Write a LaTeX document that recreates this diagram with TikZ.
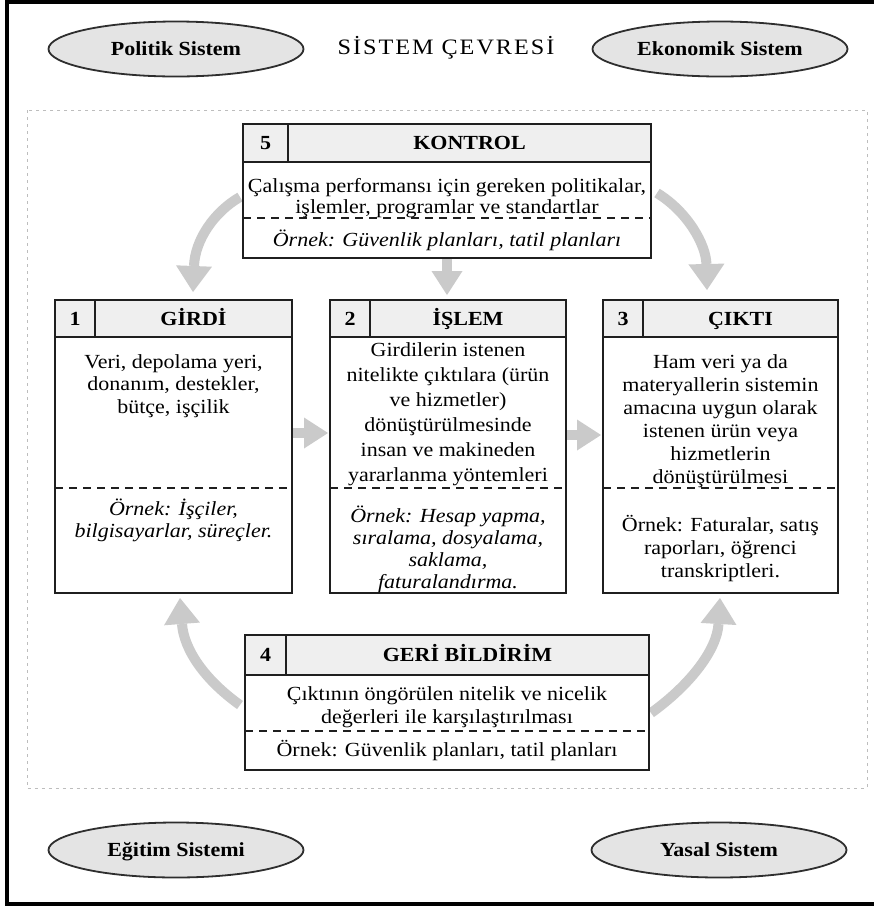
\documentclass[tikz,border=0pt]{standalone}
\usepackage{fontspec}
\setmainfont{Liberation Serif}[FakeStretch=1.1]
\usetikzlibrary{shapes.geometric,arrows.meta}

\definecolor{headfill}{HTML}{EFEFEF}
\definecolor{ellfill}{HTML}{E4E4E4}
\definecolor{flowgray}{HTML}{CACACA}
\definecolor{framegray}{HTML}{BDBDBD}

\tikzset{
  boxline/.style={draw=black!88, line width=1.6pt},
  sepdash/.style={draw=black!88, line width=1.3pt, dash pattern=on 8pt off 6pt},
  sysell/.style={ellipse, draw=black!82, line width=1.8pt, fill=ellfill,
    minimum width=255pt, minimum height=55pt, inner sep=0pt,
    text height=13.2pt, text depth=0pt,
    font=\fontsize{20}{22}\selectfont\bfseries},
  numtxt/.style={inner sep=0pt, text height=13.2pt, text depth=0pt,
    font=\fontsize{20}{22}\selectfont\bfseries},
  headtxt/.style={inner sep=0pt, text height=13.2pt, text depth=0pt,
    font=\fontsize{20}{22}\selectfont\bfseries},
  bodytxt/.style={align=center, inner sep=0pt, font=\fontsize{20}{#1}\selectfont},
  bodytxt/.default=22,
  extxt/.style={align=center, inner sep=0pt, font=\fontsize{20}{#1}\selectfont\itshape},
  extxt/.default=22,
  flow/.style={draw=flowgray, line width=10pt,
    -{Triangle[width=36pt,length=26pt,line width=0pt]}},
  flowshort/.style={draw=flowgray, line width=10pt,
    -{Triangle[width=31pt,length=24pt,line width=0pt]}},
}

% process box: name, x1, y1, x2, y2, header bottom, number divider, dashed separator
\newcommand\procbox[8]{%
  \fill[white] (#2,#3) rectangle (#4,#5);
  \fill[headfill] (#2,#3) rectangle (#4,#6);
  \draw[sepdash] (#2,#8) -- (#4,#8);
  \draw[boxline] (#2,#6) -- (#4,#6) (#7,#3) -- (#7,#6);
  \node[boxline, rectangle, anchor=north west, inner sep=0pt, outer sep=0pt,
    minimum width=#4pt-#2pt, minimum height=#5pt-#3pt] (#1) at (#2,#3) {};
}

\begin{document}
\begin{tikzpicture}[x=1pt,y=-1pt]
\clip (0,0) rectangle (874,906);
\fill[white] (0,0) rectangle (874,906);

% outer frame
\draw[line width=4pt] (7,2) rectangle (880,904);

% boundary of the system
\draw[framegray, line width=0.9pt, dash pattern=on 3pt off 4pt] (27,110) rectangle (867,788);

% surrounding systems
\node[sysell] (pol) at (176,49) {Politik Sistem};
\node[sysell] (eko) at (720,49) {Ekonomik Sistem};
\node[sysell] (egt) at (176,850) {Eğitim Sistemi};
\node[sysell] (yas) at (719,850) {Yasal Sistem};
\node[inner sep=0pt, text height=14.5pt, text depth=0pt,
  font=\fontsize{22}{24}\selectfont\addfontfeature{LetterSpace=9}] (env) at (446,47) {SİSTEM ÇEVRESİ};

% flow arrows (drawn first so the boxes sit on top)
\coordinate (k1s) at (240,197);
\coordinate (k1e) at (193,292);
\coordinate (k3s) at (657,193);
\coordinate (k3e) at (707,290);
\coordinate (k2s) at (447,259);
\coordinate (k2e) at (447,295);
\coordinate (g1s) at (292,433);
\coordinate (g1e) at (328,433);
\coordinate (i3s) at (566,435);
\coordinate (i3e) at (601,435);
\coordinate (f1s) at (240,705);
\coordinate (f1e) at (180,598);
\coordinate (f3s) at (651,713);
\coordinate (f3e) at (720,598);

\draw[flow] (k1s) .. controls (214,212) and (195,240) .. (k1e);
\draw[flow] (k3s) .. controls (688,212) and (706,245) .. (k3e);
\draw[flowshort] (k2s) -- (k2e);
\draw[flowshort] (g1s) -- (g1e);
\draw[flowshort] (i3s) -- (i3e);
\draw[flow] (f1s) .. controls (205,680) and (184,650) .. (f1e);
\draw[flow] (f3s) .. controls (690,685) and (717,650) .. (f3e);

% 5 - control
\procbox{kontrol}{243}{124}{651}{258}{162}{288}{218}
\node[numtxt] (n5) at (265.5,143) {5};
\node[headtxt] (t5) at (469.5,143) {KONTROL};
\node[bodytxt=21] (c5) at (447,198) {Çalışma performansı için gereken politikalar,\\işlemler, programlar ve standartlar};
\node[extxt] (e5) at (447,240) {Örnek: Güvenlik planları, tatil planları};

% 1 - input
\procbox{girdi}{55}{300}{292}{593}{337}{95}{488}
\node[numtxt] (n1) at (75,318.5) {1};
\node[headtxt] (t1) at (193.5,318.5) {GİRDİ};
\node[bodytxt=22.5] (c1) at (173.5,386) {Veri, depolama yeri,\\donanım, destekler,\\bütçe, işçilik};
\node[extxt=22] (e1) at (173.5,520) {Örnek: İşçiler,\\bilgisayarlar, süreçler.};

% 2 - process
\procbox{islem}{330}{300}{566}{593}{337}{370}{488}
\node[numtxt] (n2) at (350,318.5) {2};
\node[headtxt] (t2) at (468,318.5) {İŞLEM};
\node[bodytxt=25] (c2) at (448,414) {Girdilerin istenen\\nitelikte çıktılara (ürün\\ve hizmetler)\\dönüştürülmesinde\\insan ve makineden\\yararlanma yöntemleri};
\node[extxt=22] (e2) at (448,549) {Örnek: Hesap yapma,\\sıralama, dosyalama,\\saklama,\\faturalandırma.};

% 3 - output
\procbox{cikti}{603}{300}{838}{593}{337}{643}{488}
\node[numtxt] (n3) at (623,318.5) {3};
\node[headtxt] (t3) at (740.5,318.5) {ÇIKTI};
\node[bodytxt=23] (c3) at (720.5,421) {Ham veri ya da\\materyallerin sistemin\\amacına uygun olarak\\istenen ürün veya\\hizmetlerin\\dönüştürülmesi};
\node[bodytxt=23] (e3) at (720.5,549) {Örnek: Faturalar, satış\\raporları, öğrenci\\transkriptleri.};

% 4 - feedback
\procbox{geri}{245}{635}{649}{770}{675}{286}{731}
\node[numtxt] (n4) at (265.5,655) {4};
\node[headtxt] (t4) at (467.5,655) {GERİ BİLDİRİM};
\node[bodytxt=23] (c4) at (447,707) {Çıktının öngörülen nitelik ve nicelik\\değerleri ile karşılaştırılması};
\node[bodytxt] (e4) at (447,751) {Örnek: Güvenlik planları, tatil planları};
\end{tikzpicture}
\end{document}
